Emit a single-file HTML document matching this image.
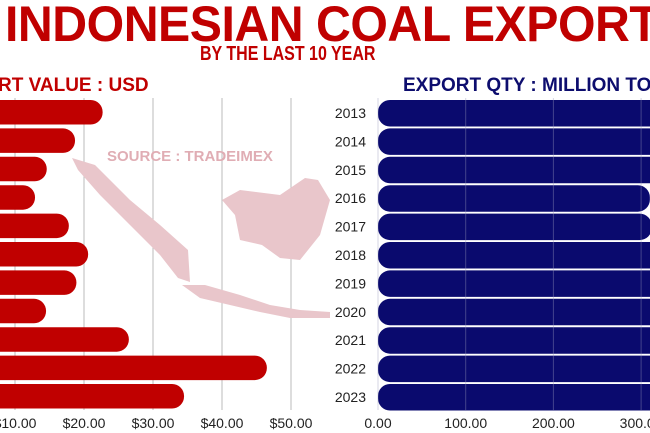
<!DOCTYPE html>
<html><head><meta charset="utf-8"><style>
html,body{margin:0;width:650px;height:433px;overflow:hidden;background:#fff;font-family:"Liberation Sans",sans-serif;position:relative}
.t{position:absolute;white-space:nowrap;font-weight:bold}
</style></head><body>
<div class="t" style="left:5px;top:-5px;font-size:50px;color:#c00000;letter-spacing:-0.5px;transform:scaleX(0.965);transform-origin:left">INDONESIAN COAL EXPORT</div>
<div class="t" style="left:200px;top:43px;font-size:20px;color:#c00000;transform:scaleX(0.8);transform-origin:left">BY THE LAST 10 YEAR</div>
<div class="t" style="left:-2px;top:75px;font-size:19px;color:#c00000">RT VALUE : USD</div>
<div class="t" style="left:403px;top:75px;font-size:19px;color:#0d0d6e">EXPORT QTY : MILLION TO</div>
<svg id="c" width="650" height="433" style="position:absolute;left:0;top:0;overflow:hidden">
<g fill="#e9c6cb">
<polygon points="72,158 95,165 130,200 160,225 188,250 190,282 178,278 160,255 130,225 100,195 78,170"/>
<polygon points="222,200 240,190 280,195 305,178 318,180 330,200 320,235 300,260 280,258 262,245 240,240 235,215"/>
<polygon points="182,285 205,285 240,295 270,305 300,310 330,312 330,318 290,318 260,312 230,305 200,298"/>
</g>
<text x="107" y="161" font-size="15" font-weight="bold" fill="#e0adb4">SOURCE : TRADEIMEX</text>
</svg>
<script>
const years=["2013","2014","2015","2016","2017","2018","2019","2020","2021","2022","2023"];
const valueUSD=[22.7,18.7,14.6,12.9,17.8,20.6,18.9,14.5,26.5,46.5,34.5];
const qtyMT=[335,335,335,310,312,335,335,335,335,335,335];
const leftTicks=[10,20,30,40,50];
const rightTicks=[0,100,200,300];
const NS="http://www.w3.org/2000/svg";
const svg=document.getElementById('c');
function mk(t,a){const e=document.createElementNS(NS,t);for(const k in a)e.setAttribute(k,a[k]);return e;}
const xL=v=>-54+v*6.9;
const xR=v=>378+v*0.877;
const yRow=i=>100+i*28.4;
const bh=24.5;
leftTicks.forEach(v=>{
 const l=mk('line',{x1:xL(v),x2:xL(v),y1:98,y2:410,stroke:'#bbb','stroke-width':1});
 
 
 svg.insertBefore(l,svg.firstChild);
 const t=mk('text',{x:xL(v),y:428,'text-anchor':'middle','font-size':14,fill:'#222'});
 t.textContent='$'+v.toFixed(2);
 
 
 svg.appendChild(t);
});
valueUSD.forEach((v,i)=>{
 const w=xL(v)+20;
 const r=mk('rect',{x:-20,y:yRow(i),width:w,height:bh,rx:12,fill:'#c00000'});
 
 
 svg.appendChild(r);
});
qtyMT.forEach((v,i)=>{
 const w=Math.min(xR(v),690)-378;
 const r=mk('rect',{x:378,y:yRow(i),width:w,height:bh+2,rx:12,fill:'#0a0a6e'});
 
 
 svg.appendChild(r);
 const t=mk('text',{x:366,y:yRow(i)+18,'text-anchor':'end','font-size':14,fill:'#222'});
 t.textContent=years[i];
 
 
 svg.appendChild(t);
});
rightTicks.forEach(v=>{
 const l=mk('line',{x1:xR(v),x2:xR(v),y1:98,y2:410,stroke:'#9999bb','stroke-width':1,opacity:0.4});
 
 
 svg.appendChild(l);
 const t=mk('text',{x:xR(v),y:428,'text-anchor':'middle','font-size':14,fill:'#222'});
 t.textContent=v.toFixed(2);
 
 
 svg.appendChild(t);
});
</script>
</body></html>
